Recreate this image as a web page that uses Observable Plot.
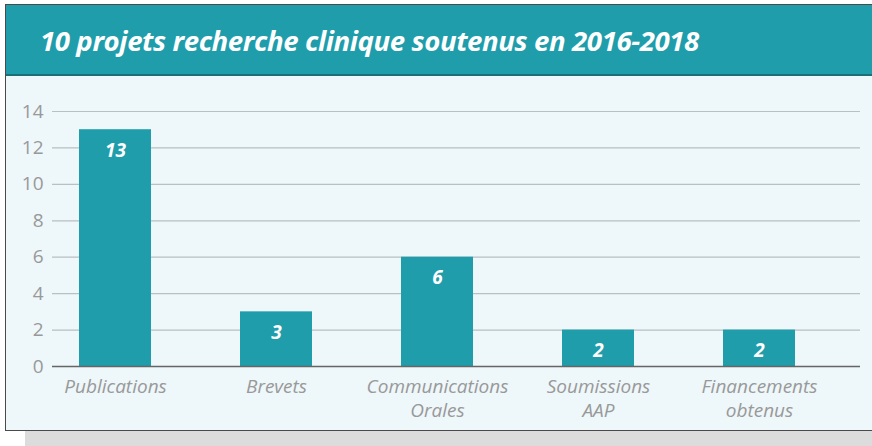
<!DOCTYPE html>
<html><head><meta charset="utf-8">
<script src="https://cdn.jsdelivr.net/npm/d3@7"></script>
<script src="https://cdn.jsdelivr.net/npm/@observablehq/plot@0.6"></script>
<style>
html,body{margin:0;padding:0;background:#fff;width:872px;height:446px;overflow:hidden;font-family:"Open Sans",sans-serif;}
#shadow{position:absolute;left:25px;top:430px;width:847px;height:16px;background:#dcdcdc;}
#frame{position:absolute;left:5px;top:4px;width:880px;height:425px;border:1.5px solid #4a4a4a;background:#eef7fa;}
#header{position:absolute;left:0;top:0;right:0;height:69px;background:#1f9dab;border-bottom:2px solid #1b6f77;}
#title{position:absolute;left:34px;top:16px;color:#fff;font-weight:700;font-style:italic;font-size:27.6px;letter-spacing:-0.4px;white-space:nowrap;}
#chart{position:absolute;left:0;top:76px;}
</style></head>
<body>
<div id="shadow"></div>
<div id="frame"><div id="header"><div id="title">10 projets recherche clinique soutenus en 2016-2018</div></div></div>
<div id="chart"></div>
<script>
const categories = ["Publications","Brevets","Communications\nOrales","Soumissions\nAAP","Financements\nobtenus"];
const values = [13,3,6,2,2];
const yTicks = [0,2,4,6,8,10,12,14];
const data = categories.map((c,i)=>({cat:c, v:values[i]}));
const teal = "#1f9dab";
const plot = Plot.plot({
  width: 872, height: 354,
  marginLeft: 52, marginRight: 12, marginTop: 35, marginBottom: 64,
  style: {fontFamily: "'Open Sans', sans-serif", background: "transparent", overflow: "visible"},
  x: {domain: categories, paddingInner: 0.55, paddingOuter: 0.27, align: 0.3, label: null},
  y: {domain: [0,14], label: null},
  marks: [
    Plot.gridY(yTicks, {stroke: "#b9bfc2", strokeOpacity: 1, strokeWidth: 1.2}),
    Plot.axisY(yTicks, {tickSize: 0, tickPadding: 9, fontSize: 19, fill: "#999", label: null}),
    Plot.barY(data, {x: "cat", y: "v", fill: teal}),
    Plot.ruleY([0], {stroke: "#666", strokeWidth: 1.3}),
    Plot.axisX({tickSize: 0, tickPadding: 10, fontSize: 19, fill: "#999", fontStyle: "italic", lineHeight: 1.25, textAnchor: "middle", label: null}),
    Plot.text(data, {x: "cat", y: "v", text: d => String(d.v), dy: 21, fill: "#fff", fontSize: 19, fontWeight: 700, fontStyle: "italic"})
  ]
});
document.getElementById("chart").appendChild(plot);
</script>
</body></html>
